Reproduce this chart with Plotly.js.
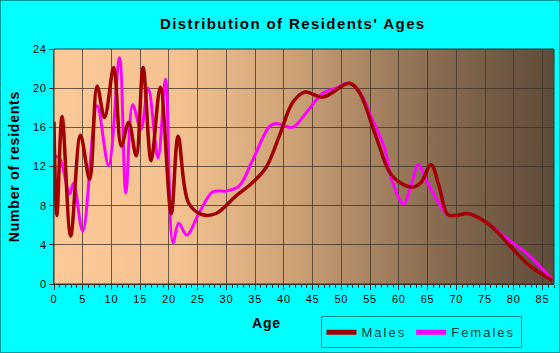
<!DOCTYPE html>
<html>
<head>
<meta charset="utf-8">
<script src="https://cdn.plot.ly/plotly-3.0.1.min.js"></script>
<style>
html, body { margin: 0; padding: 0; background: #00ffff; }
#wrap { width: 560px; height: 353px; box-sizing: border-box; border: 1px solid #009c9c; overflow: hidden; }
#chart { width: 558px; height: 351px; }
.gtitle { letter-spacing: 1.4px; }
.xtick text, .ytick text { letter-spacing: 0.8px; }
.legendtext { letter-spacing: 2px; }
.annotation-text, .g-ytitle text { letter-spacing: 0.8px; }
</style>
</head>
<body>
<div id="wrap"><div id="chart"></div></div>
<script>
// Males: ages and number of residents
const maleAges = [0, 0.5, 1.4, 2.9, 4.6, 6.2, 7.5, 8.8, 10.4, 11.7, 13.0, 14.3, 15.5, 16.9, 18.5, 20.4, 21.6, 23.4, 25.7, 28.2, 31.5, 34.6, 36.9, 39.2, 41.5, 43.6, 46.8, 51.4, 53.1, 56.0, 58.4, 60.1, 62.4, 63.9, 65.6, 67.0, 68.5, 70, 72, 75.2, 77.5, 80.1, 82.7, 86.7];
const maleCounts = [16.6, 7.0, 17.1, 4.9, 15.2, 10.7, 20.2, 17.0, 22.1, 14.1, 16.5, 13.1, 22.1, 12.6, 20.1, 7.2, 15.1, 8.3, 7.1, 7.2, 8.9, 10.4, 11.9, 15.1, 18.5, 19.6, 19.1, 20.5, 19.6, 15.1, 11.4, 10.4, 9.9, 10.4, 12.2, 10.0, 7.1, 7.0, 7.2, 6.3, 5.1, 3.4, 1.9, 0.35];

// Females: ages and number of residents
const femaleAges = [0, 1.0, 2.7, 3.4, 5.0, 7.5, 9.5, 11.4, 12.5, 13.7, 15.1, 16.4, 18.1, 19.4, 20.7, 21.7, 23.1, 25.3, 27.6, 30.0, 32.2, 34.6, 37.5, 38.7, 41.5, 43.9, 46.8, 49.1, 51.1, 53.1, 55.4, 57.5, 58.9, 60.8, 62.1, 63.4, 64.7, 66.5, 68.5, 70, 72, 75.2, 78.6, 82.7, 86.7];
const femaleCounts = [13.1, 12.8, 9.2, 10.3, 5.4, 18.2, 12.1, 23.1, 9.3, 18.3, 15.8, 20.0, 12.9, 20.9, 4.2, 6.2, 5.0, 7.3, 9.4, 9.5, 10.0, 12.7, 16.1, 16.4, 16.0, 17.5, 19.5, 20.0, 20.5, 19.7, 16.8, 13.9, 10.4, 8.2, 10.0, 12.2, 10.7, 8.7, 7.1, 7.0, 7.2, 6.3, 4.75, 2.9, 0.45];

const seriesNames = ['Males', 'Females'];
const xTickVals = [0, 5, 10, 15, 20, 25, 30, 35, 40, 45, 50, 55, 60, 65, 70, 75, 80, 85];
const yTickVals = [0, 4, 8, 12, 16, 20, 24];

// background gradient for the plot area
const cv = document.createElement('canvas');
cv.width = 500; cv.height = 4;
const ctx = cv.getContext('2d');
const g = ctx.createLinearGradient(0, 0, 500, 0);
g.addColorStop(0, 'rgb(252,202,152)');
g.addColorStop(0.25, 'rgb(244,194,145)');
g.addColorStop(0.47, 'rgb(206,163,119)');
g.addColorStop(0.75, 'rgb(140,110,82)');
g.addColorStop(1, 'rgb(94,75,57)');
ctx.fillStyle = g;
ctx.fillRect(0, 0, 500, 4);

const traces = [
  { x: maleAges, y: maleCounts, name: seriesNames[0], type: 'scatter', mode: 'lines',
    line: { color: '#a00000', width: 3.5, shape: 'spline', smoothing: 1 } },
  { x: femaleAges, y: femaleCounts, name: seriesNames[1], type: 'scatter', mode: 'lines',
    line: { color: '#ff00ff', width: 3, shape: 'spline', smoothing: 1 } }
];
// draw males on top
const data = [traces[1], traces[0]];

const fam = 'Arial, "Liberation Sans", sans-serif';
const tickFont = { family: fam, size: 11, color: '#000' };

const layout = {
  width: 558, height: 351,
  margin: { l: 53, r: 5, t: 48, b: 67 },
  paper_bgcolor: '#00ffff',
  plot_bgcolor: 'rgba(0,0,0,0)',
  title: { text: "Distribution of Residents' Ages", x: 0.523, xref: 'container', xanchor: 'center', y: 0.934, yref: 'container', yanchor: 'middle',
    font: { family: fam, size: 15, weight: 'bold', color: '#000' } },
  xaxis: {
    range: [0, 87], tickvals: xTickVals, ticktext: xTickVals.map(String),
    showgrid: true, gridcolor: 'rgba(60,50,40,0.75)', gridwidth: 1,
    ticks: 'outside', ticklen: 5, tickcolor: '#333', tickfont: tickFont,
    minor: { dtick: 1, ticks: 'outside', ticklen: 3, tickcolor: '#333', showgrid: false },
    showline: true, linecolor: '#333', linewidth: 1, mirror: false,
    zeroline: false, fixedrange: true
  },
  yaxis: {
    range: [0, 24], tickvals: yTickVals, ticktext: yTickVals.map(String),
    showgrid: true, gridcolor: 'rgba(60,50,40,0.75)', gridwidth: 1,
    ticks: 'outside', ticklen: 4, tickcolor: '#333', tickfont: tickFont,
    showline: true, linecolor: '#333', linewidth: 1,
    zeroline: false, fixedrange: true,
    title: { text: 'Number of residents', standoff: 10, font: { family: fam, size: 14, weight: 'bold', color: '#000' } }
  },
  annotations: [{ text: 'Age', xref: 'paper', yref: 'paper', x: 0.424, y: -0.167, xanchor: 'center', yanchor: 'middle',
    showarrow: false, font: { family: fam, size: 14, weight: 'bold', color: '#000' } }],
  images: [{ source: cv.toDataURL(), xref: 'paper', yref: 'paper', x: 0, y: 1, sizex: 1, sizey: 1,
    sizing: 'stretch', xanchor: 'left', yanchor: 'top', layer: 'below' }],
  shapes: [{ type: 'rect', xref: 'paper', yref: 'paper', x0: 0, x1: 1, y0: 0, y1: 1,
    line: { color: '#333', width: 1 }, fillcolor: 'rgba(0,0,0,0)', layer: 'above' }],
  showlegend: true,
  legend: {
    orientation: 'h', x: 0.935, xanchor: 'right', xref: 'paper', y: -0.133, yanchor: 'top', yref: 'paper',
    bgcolor: '#00ffff', bordercolor: '#008c8c', borderwidth: 1,
    font: { family: fam, size: 13, color: '#0a3c3c' },
    traceorder: 'reversed', itemwidth: 30, itemsizing: 'constant', tracegroupgap: 0
  }
};

Plotly.newPlot('chart', data, layout, { staticPlot: true, displayModeBar: false });
</script>
</body>
</html>
